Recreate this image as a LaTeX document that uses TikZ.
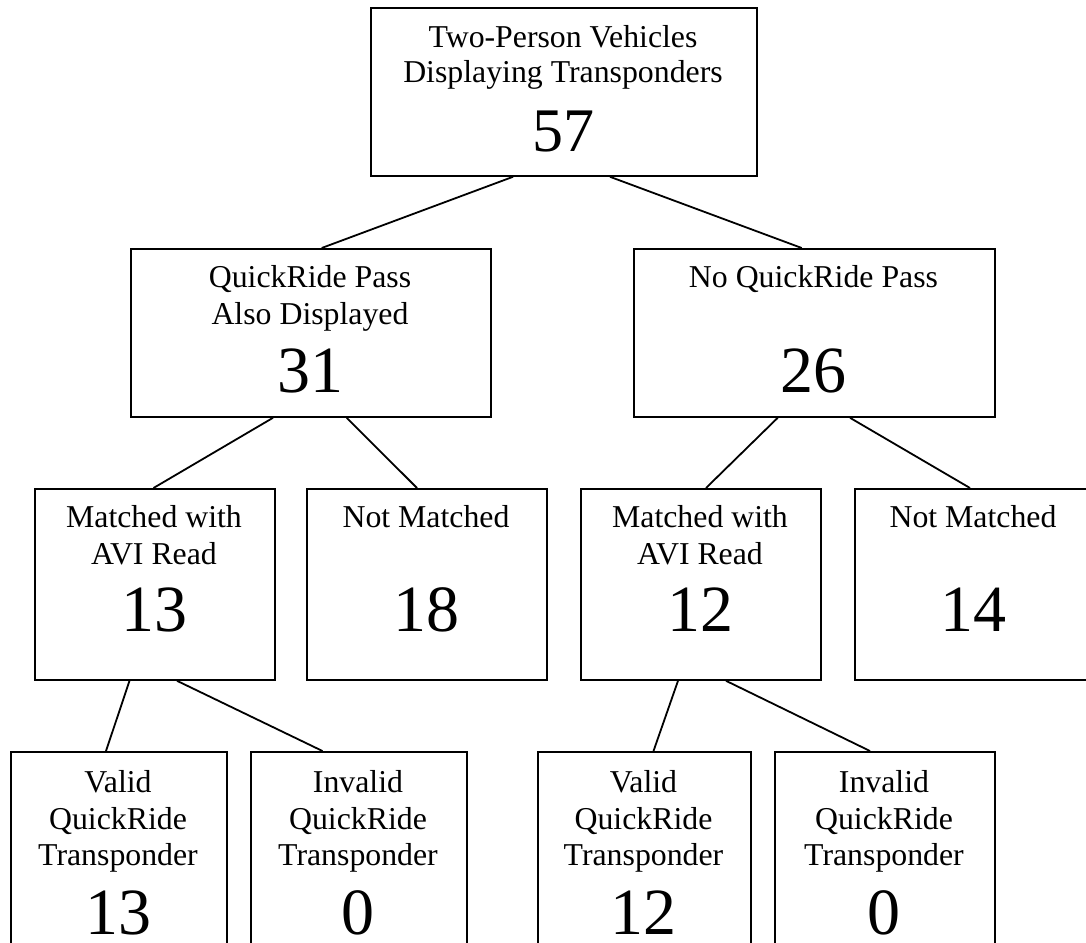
\documentclass[tikz,border=0pt]{standalone}
\usepackage{fontspec}
\setmainfont{Liberation Serif}
\usetikzlibrary{calc}
\tikzset{
  box/.style={draw, line width=1.8pt, rectangle, inner sep=0pt, anchor=north west},
  lbl/.style={inner sep=0pt, anchor=base, font=\fontsize{31.8pt}{36.5pt}\selectfont},
  num/.style={inner sep=0pt, anchor=base, font=\fontsize{66pt}{66pt}\selectfont},
  bignum/.style={inner sep=0pt, anchor=base, font=\fontsize{62pt}{62pt}\selectfont},
  link/.style={line width=1.8pt}
}
\begin{document}
\begin{tikzpicture}[x=1pt,y=-1pt]
\useasboundingbox (0,0) rectangle (1086,942);
\clip (0,0) rectangle (1086,942);
\fill[white] (0,0) rectangle (1086,942);

% boxes
\node[box, minimum width=386pt, minimum height=168pt] (top) at (370,7) {};
\node[box, minimum width=360pt, minimum height=168pt] (qp) at (130,248) {};
\node[box, minimum width=361pt, minimum height=168pt] (nq) at (633,248) {};
\node[box, minimum width=240pt, minimum height=191pt] (ml) at (34,488) {};
\node[box, minimum width=240pt, minimum height=191pt] (nl) at (306,488) {};
\node[box, minimum width=240pt, minimum height=191pt] (mr) at (580,488) {};
\node[box, minimum width=238pt, minimum height=191pt] (nr) at (854,488) {};
\node[box, minimum width=216pt, minimum height=220pt] (vl) at (10,751) {};
\node[box, minimum width=216pt, minimum height=220pt] (il) at (250,751) {};
\node[box, minimum width=213pt, minimum height=220pt] (vr) at (537,751) {};
\node[box, minimum width=220pt, minimum height=220pt] (ir) at (774,751) {};

% texts
\node[lbl] (ta) at (563,47.7) {Two-Person Vehicles};
\node[lbl] (tb) at (563,82.7) {Displaying Transponders};
\node[bignum] (tn) at (563,151.7) {57};

\node[lbl] (qa) at (310,287.7) {QuickRide Pass};
\node[lbl] (qb) at (310,324.3) {Also Displayed};
\node[num] (qn) at (310,392) {31};

\node[lbl] (na) at (813.5,287.7) {No QuickRide Pass};
\node[num] (nn) at (813.5,392) {26};

\node[lbl] (mla) at (154,527.7) {Matched with};
\node[lbl] (mlb) at (154,564.3) {AVI Read};
\node[num] (mln) at (154,631.7) {13};

\node[lbl] (nla) at (426,527.7) {Not Matched};
\node[num] (nln) at (426,631.7) {18};

\node[lbl] (mra) at (700,527.7) {Matched with};
\node[lbl] (mrb) at (700,564.3) {AVI Read};
\node[num] (mrn) at (700,631.7) {12};

\node[lbl] (nra) at (973,527.7) {Not Matched};
\node[num] (nrn) at (973,631.7) {14};

\node[lbl] (vla) at (118,792.7) {Valid};
\node[lbl] (vlb) at (118,829.3) {QuickRide};
\node[lbl] (vlc) at (118,865.8) {Transponder};
\node[num] (vln) at (118,934) {13};

\node[lbl] (ila) at (358,792.7) {Invalid};
\node[lbl] (ilb) at (358,829.3) {QuickRide};
\node[lbl] (ilc) at (358,865.8) {Transponder};
\node[num] (iln) at (358,934) {0};

\node[lbl] (vra) at (643.5,792.7) {Valid};
\node[lbl] (vrb) at (643.5,829.3) {QuickRide};
\node[lbl] (vrc) at (643.5,865.8) {Transponder};
\node[num] (vrn) at (643.5,934) {12};

\node[lbl] (ira) at (884,792.7) {Invalid};
\node[lbl] (irb) at (884,829.3) {QuickRide};
\node[lbl] (irc) at (884,865.8) {Transponder};
\node[num] (irn) at (884,934) {0};

% connectors
\draw[link] ([xshift=143pt]top.south west) -- ([xshift=191.7pt]qp.north west);
\draw[link] ([xshift=240pt]top.south west) -- ([xshift=168.7pt]nq.north west);
\draw[link] ([xshift=143pt]qp.south west) -- ([xshift=119.5pt]ml.north west);
\draw[link] ([xshift=216.7pt]qp.south west) -- ([xshift=111pt]nl.north west);
\draw[link] ([xshift=144.7pt]nq.south west) -- ([xshift=126pt]mr.north west);
\draw[link] ([xshift=217pt]nq.south west) -- ([xshift=116pt]nr.north west);
\draw[link] ([xshift=95.5pt]ml.south west) -- ([xshift=96pt]vl.north west);
\draw[link] ([xshift=143pt]ml.south west) -- ([xshift=72.5pt]il.north west);
\draw[link] ([xshift=98pt]mr.south west) -- ([xshift=116.5pt]vr.north west);
\draw[link] ([xshift=146pt]mr.south west) -- ([xshift=96pt]ir.north west);
\end{tikzpicture}
\end{document}
